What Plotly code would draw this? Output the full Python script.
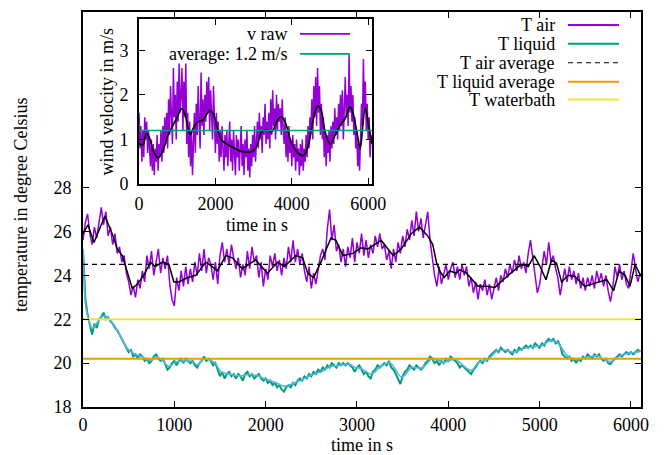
import plotly.graph_objects as go

FONT = "Liberation Serif, Times New Roman, serif"
FS = 18

# ---------------- data ----------------
raw_step = 25  # s between raw samples

t_air_raw = [
    25.6, 26.4, 26.8, 25.9, 25.4, 26.2, 25.7, 26.5, 27.1, 26.3, 26.9, 25.8,
    26.2, 25.4, 25.9, 25.0, 25.3, 24.6, 24.9, 24.1, 23.7, 23.1, 23.5, 23.0,
    23.8, 23.4, 24.2, 23.7, 24.9, 24.3, 25.1, 24.0, 24.6, 25.2, 24.1, 24.8,
    24.3, 24.9, 23.6, 22.9, 22.6, 23.9, 23.3, 24.2, 23.5, 24.4, 23.6, 24.3,
    23.7, 24.6, 24.0, 25.0, 24.2, 25.2, 24.1, 24.8, 24.5, 23.8, 24.6, 23.6,
    24.9, 25.5, 24.6, 25.2, 24.5, 25.4, 24.8, 24.3, 24.8, 23.9, 24.5, 24.0,
    25.1, 24.3, 25.3, 24.6, 24.9, 23.9, 24.6, 23.5, 24.3, 23.8, 24.9, 24.4,
    25.0, 24.2, 24.7, 24.0, 24.8, 24.3, 25.3, 24.6, 25.6, 24.6, 25.2, 24.5,
    25.0, 24.2, 23.7, 24.4, 23.4, 24.1, 23.6, 24.3, 24.9, 25.2, 24.7, 26.1,
    27.0, 25.6, 26.3, 25.1, 25.4, 24.6, 25.2, 24.4, 25.3, 24.8, 25.7, 24.6,
    25.5, 25.0, 25.9, 24.9, 25.6, 24.8, 25.4, 25.0, 25.8, 25.3, 25.9, 25.2,
    25.4, 24.7, 25.1, 24.3, 25.2, 24.6, 25.5, 25.0, 25.8, 25.3, 26.1, 25.6,
    26.5, 25.8, 26.9, 26.0, 26.6, 25.7, 26.3, 26.9, 25.6, 24.8, 24.0, 23.5,
    24.4, 23.6, 24.1, 24.5, 23.8, 24.3, 24.6, 23.9, 24.4, 23.8, 24.5, 24.0,
    24.4, 23.5, 23.9, 23.2, 23.7, 22.9, 23.6, 23.3, 23.8, 23.1, 23.6, 22.9,
    23.4, 23.9, 23.3, 24.0, 23.7, 24.3, 23.9, 24.5, 24.1, 24.7, 24.2, 24.9,
    24.3, 24.6, 24.1, 25.0, 25.6, 24.8, 24.2, 23.2, 23.6, 24.3, 25.1, 24.5,
    25.5, 24.6, 24.9, 24.3, 23.9, 23.1, 23.8, 24.3, 23.7, 24.4, 23.8, 24.2,
    23.6, 24.1, 23.4, 23.9, 23.3, 23.9, 23.5, 24.0, 23.4, 24.2, 23.7, 24.1,
    23.5, 24.0, 23.3, 22.8, 23.4, 24.4, 23.9, 24.5, 23.8, 24.2, 23.6, 23.4,
    24.2, 25.0, 24.3, 23.7, 24.1,
]

t_air_smooth_time = [
    0, 55, 120, 240, 320, 375, 430, 465, 540, 595, 665, 740, 790, 870, 940,
    995, 1050, 1145, 1235, 1345, 1415, 1470, 1565, 1635, 1745, 1890, 2020,
    2130, 2205, 2330, 2405, 2460, 2525, 2605, 2715, 2770, 2845, 2955, 3045,
    3120, 3265, 3395, 3485, 3595, 3685, 3775, 3830, 3870, 3905, 3955, 4015,
    4090, 4125, 4200, 4325, 4420, 4510, 4600, 4710, 4800, 4875, 4940, 5005,
    5070, 5130, 5185, 5240, 5315, 5385, 5495, 5570, 5735, 5810, 5870, 5935,
    5990, 6045, 6110,
]
t_air_smooth = [
    25.9, 26.3, 25.5, 26.7, 25.9, 25.2, 24.9, 24.4, 23.4, 23.6, 24.0, 24.6,
    24.4, 24.6, 24.5, 23.7, 23.7, 23.9, 24.0, 24.6, 24.4, 24.2, 24.9, 24.8,
    24.3, 24.7, 24.1, 24.6, 24.4, 24.9, 24.8, 24.1, 23.9, 24.6, 25.7, 25.6,
    24.9, 25.0, 25.25, 25.2, 25.6, 24.9, 25.2, 25.9, 26.2, 25.8, 25.4, 24.6,
    24.2, 23.9, 24.2, 24.1, 24.25, 24.1, 23.5, 23.5, 23.45, 23.8, 24.2, 24.5,
    24.4, 24.9, 24.4, 23.8, 24.7, 24.55, 23.7, 24.0, 23.95, 23.5, 23.6, 23.8,
    23.3, 24.2, 24.0, 23.5, 24.5, 23.95,
]

t_liquid_raw = [
    25.2, 23.0, 22.2, 21.7, 21.3, 21.8, 21.6, 22.0, 22.1, 22.3, 22.0, 22.1,
    21.9, 21.8, 21.6, 21.5, 21.3, 21.1, 20.9, 20.7, 20.5, 20.6, 20.3, 20.4,
    20.2, 20.4, 20.3, 20.1, 20.2, 20.0, 20.1, 20.3, 20.4, 20.2, 20.1, 20.2,
    19.9, 19.7, 19.8, 20.0, 20.1, 19.9, 20.1, 20.2, 20.0, 20.2, 20.1, 20.0,
    20.1, 19.9, 19.8, 20.0, 20.1, 20.3, 20.1, 20.2, 20.1, 19.9, 20.0, 19.7,
    19.4, 19.6, 19.3, 19.5, 19.6, 19.4, 19.5, 19.3, 19.5, 19.4, 19.2, 19.5,
    19.6, 19.4, 19.5, 19.3, 19.4, 19.5, 19.3, 19.2, 19.3, 19.1, 19.2, 19.0,
    19.1, 18.9, 19.0, 18.8, 18.7, 18.9, 19.0, 18.9, 19.1, 19.0, 19.2, 19.3,
    19.2, 19.4, 19.3, 19.5, 19.4, 19.6, 19.5, 19.7, 19.6, 19.8, 19.7, 19.9,
    19.8, 20.0, 19.9, 19.8, 20.0, 19.9, 20.0, 19.9, 20.0, 19.9, 19.8, 19.6,
    19.8, 19.9, 19.7, 19.5, 19.6, 19.4, 19.3, 19.6, 19.7, 19.9, 19.8, 19.9,
    20.0, 19.9, 20.1, 19.8, 19.7, 19.5, 19.3, 19.05, 19.4, 19.6, 19.7, 19.9,
    19.8, 19.7, 19.9, 19.8, 19.7, 19.8, 20.0, 20.1, 20.3, 20.2, 20.0, 20.1,
    19.9, 20.1, 20.0, 20.2, 20.1, 20.3, 20.2, 20.1, 20.0, 19.8, 19.9, 19.8,
    19.7, 19.6, 19.5, 19.7, 19.8, 20.0, 20.1, 20.0, 20.2, 20.1, 20.3, 20.4,
    20.5, 20.6, 20.5, 20.7, 20.6, 20.5, 20.6, 20.5, 20.4, 20.6, 20.5, 20.7,
    20.6, 20.7, 20.8, 20.7, 20.8, 20.7, 20.9, 20.8, 20.7, 20.9, 20.8, 21.0,
    21.1, 21.0, 21.1, 20.9, 21.0, 20.8, 20.4, 20.3, 20.2, 20.3, 20.1, 20.2,
    20.0, 20.2, 20.1, 20.3, 20.2, 20.4, 20.3, 20.2, 20.4, 20.3, 20.4, 20.2,
    20.1, 20.2, 20.0, 19.95, 20.1, 20.2, 20.3, 20.4, 20.3, 20.4, 20.5, 20.4,
    20.5, 20.4, 20.5, 20.6, 20.55,
]

t_liquid_smooth_time = [
    0, 10, 27, 63, 100, 155, 228, 300, 375, 445, 500, 575, 650, 740, 815, 870,
    940, 1015, 1125, 1195, 1250, 1325, 1400, 1455, 1510, 1600, 1710, 1820,
    1910, 2000, 2110, 2205, 2295, 2405, 2515, 2605, 2700, 2810, 2920, 2975,
    3045, 3160, 3250, 3360, 3490, 3600, 3710, 3835, 3945, 4075, 4165, 4255,
    4330, 4440, 4530, 4605, 4715, 4825, 4935, 5025, 5115, 5190, 5260, 5320,
    5410, 5520, 5630, 5700, 5775, 5885, 5960, 6070, 6110,
]
t_liquid_smooth = [
    25.2, 24.1, 22.7, 21.95, 21.6, 21.85, 22.15, 21.95, 21.5, 20.95, 20.6,
    20.4, 20.28, 20.12, 20.26, 20.12, 19.85, 20.05, 20.1, 20.08, 19.92, 20.18,
    20.12, 19.95, 19.6, 19.5, 19.42, 19.48, 19.42, 19.28, 19.1, 18.95, 19.06,
    19.26, 19.48, 19.6, 19.83, 19.9, 19.95, 19.8, 19.75, 19.5, 19.8, 20.02,
    19.35, 19.8, 19.78, 20.22, 20.03, 20.18, 19.88, 19.67, 20.03, 20.18, 20.55,
    20.6, 20.5, 20.67, 20.75, 20.8, 21.02, 20.95, 20.57, 20.27, 20.18, 20.26,
    20.34, 20.18, 20.07, 20.34, 20.44, 20.5, 20.56,
]

t_air_average = 24.5
t_liquid_average = 20.2
t_waterbath = 22.0
t_end = 6110

v_raw = [
    1.6, 0.8, 1.3, 0.5, 1.2, 0.6, 1.5, 1.0, 1.4, 0.7, 1.2, 0.8,
    0.4, 1.0, 0.3, 0.9, 0.2, 0.8, 0.5, 1.1, 0.3, 0.9, 0.6, 1.2,
    0.5, 1.3, 0.7, 1.5, 0.9, 1.6, 0.8, 1.9, 1.1, 2.2, 1.4, 0.9,
    2.6, 1.5, 2.0, 1.0, 2.3, 1.4, 2.7, 1.6, 2.0, 2.6, 1.2, 2.3,
    1.5, 2.7, 0.9, 1.6, 0.6, 1.4, 0.4, 1.2, 0.2, 1.0, 1.6, 0.7,
    1.8, 1.1, 2.2, 1.4, 0.8, 2.5, 1.3, 1.9, 1.1, 2.0, 1.4, 2.3,
    1.6, 2.4, 1.2, 2.1, 1.5, 1.0, 2.2, 1.3, 0.7, 1.6, 0.9, 1.4,
    0.5, 1.2, 0.6, 1.3, 0.8, 0.3, 1.1, 0.6, 1.2, 0.4, 0.9, 1.4,
    0.5, 1.0, 0.3, 1.2, 0.7, 0.2, 1.1, 0.6, 1.0, 0.3, 0.8, 1.3,
    0.4, 0.9, 0.2, 1.0, 0.6, 1.2, 0.3, 0.8, 0.15, 0.9, 0.4, 1.1,
    0.6, 1.3, 0.5, 1.0, 1.4, 0.8, 1.6, 1.0, 1.3, 0.7, 1.5, 1.1,
    1.8, 0.9, 1.4, 1.0, 1.6, 0.8, 1.9, 1.1, 2.1, 1.3, 1.7, 1.0,
    2.0, 1.2, 1.8, 1.4, 1.7, 1.1, 1.9, 1.2, 0.9, 1.5, 0.6, 1.2,
    0.5, 1.3, 0.7, 1.0, 0.4, 1.1, 0.6, 0.9, 0.3, 1.0, 0.5, 0.8,
    0.2, 0.9, 0.4, 1.0, 0.3, 0.8, 0.5, 1.1, 0.6, 1.3, 0.8, 1.5,
    1.2, 1.9, 1.0, 2.2, 1.5, 2.4, 1.3, 2.6, 1.6, 2.2, 1.1, 1.8,
    1.0, 1.5, 0.6, 1.2, 0.4, 1.1, 0.7, 1.2, 0.5, 1.3, 0.8, 1.4,
    0.9, 1.7, 1.1, 1.5, 1.0, 1.8, 1.2, 2.0, 1.3, 2.1, 1.0, 1.7,
    2.4, 1.5, 2.0, 1.3, 2.9, 1.6, 2.2, 1.4, 2.0, 1.1, 1.5, 0.8,
    1.2, 0.4, 0.9, 0.3, 1.0, 1.8, 1.3, 2.8, 1.6, 2.3, 1.2, 1.8,
    1.0, 1.5, 0.6, 1.1, 0.9,
]

v_smooth_time = [
    0, 105, 192, 280, 367, 499, 630, 761, 892, 1024, 1111, 1199, 1286, 1348,
    1417, 1549, 1680, 1855, 1942, 2030, 2161, 2336, 2511, 2686, 2948, 3079,
    3210, 3341, 3472, 3604, 3718, 3823, 3998, 4173, 4304, 4436, 4567, 4680,
    4768, 4873, 5004, 5136, 5267, 5398, 5530, 5617, 5704, 5792, 5853, 5923,
    6010, 6098,
]
v_smooth = [
    0.91, 0.88, 1.14, 1.02, 0.76, 0.59, 0.76, 1.10, 1.32, 1.54, 1.69, 1.58,
    1.25, 1.11, 1.25, 1.40, 1.44, 1.65, 1.58, 1.32, 0.99, 0.88, 0.80, 0.73,
    0.73, 0.84, 1.17, 1.21, 1.17, 1.40, 1.51, 1.40, 0.91, 0.69, 0.64, 0.88,
    1.47, 1.75, 1.66, 1.17, 0.89, 1.10, 1.32, 1.47, 1.73, 1.54, 1.17, 0.80,
    1.25, 1.71, 1.32, 0.91,
]
v_average = 1.2
v_end = 6100

main_x_ticks = [0, 1000, 2000, 3000, 4000, 5000, 6000]
main_y_ticks = [18, 20, 22, 24, 26, 28]
inset_x_ticks = [0, 2000, 4000, 6000]
inset_y_ticks = [0, 1, 2, 3]

legend_main = ["T air", "T liquid", "T air average", "T liquid average", "T waterbath"]
legend_inset = ["v raw", "average: 1.2 m/s"]

# ---------------- colours ----------------
PURPLE = "#9400d3"
GREEN = "#009e73"
BLUE = "#56b4e9"
ORANGE = "#e69f00"
YELLOW = "#f0e442"
BLACK = "#000000"

# page body has an 8px margin; size the figure so the plot lands at the
# same window pixels as the reference
OFF = 8
W, H = 667 - OFF, 455 - OFF
ML, MR, MT, MB = 83 - OFF, 26, 10 - OFF, 56 - OFF
PW, PH = W - ML - MR, H - MT - MB


def px(x):
    return (x - OFF - ML) / PW


def py(y):
    return (OFF + H - MB - y) / PH


t_raw = [raw_step * i for i in range(len(t_air_raw))]
t_liq = [raw_step * i for i in range(len(t_liquid_raw))]
t_v = [raw_step * i for i in range(len(v_raw))]

fig = go.Figure()

# main plot traces
fig.add_trace(go.Scatter(x=t_raw, y=t_air_raw, mode="lines",
                         line=dict(color=PURPLE, width=1.5), name="T air"))
fig.add_trace(go.Scatter(x=t_air_smooth_time, y=t_air_smooth, mode="lines",
                         line=dict(color=BLACK, width=1.5), name="T air smooth"))
fig.add_trace(go.Scatter(x=t_liq, y=t_liquid_raw, mode="lines",
                         line=dict(color=GREEN, width=2), name="T liquid"))
fig.add_trace(go.Scatter(x=t_liquid_smooth_time, y=t_liquid_smooth, mode="lines",
                         line=dict(color=BLUE, width=1.6, shape="spline"),
                         name="T liquid smooth"))
fig.add_trace(go.Scatter(x=[0, t_end], y=[t_air_average, t_air_average], mode="lines",
                         line=dict(color=BLACK, width=1.2, dash="5px,4px"),
                         name="T air average"))
fig.add_trace(go.Scatter(x=[0, t_end], y=[t_liquid_average, t_liquid_average], mode="lines",
                         line=dict(color=ORANGE, width=2), name="T liquid average"))
fig.add_trace(go.Scatter(x=[0, t_end], y=[t_waterbath, t_waterbath], mode="lines",
                         line=dict(color=YELLOW, width=2), name="T waterbath"))

# inset traces
fig.add_trace(go.Scatter(x=t_v, y=v_raw, mode="lines", xaxis="x2", yaxis="y2",
                         line=dict(color=PURPLE, width=1.5), name="v raw"))
fig.add_trace(go.Scatter(x=v_smooth_time, y=v_smooth, mode="lines", xaxis="x2", yaxis="y2",
                         line=dict(color=BLACK, width=1.6, shape="spline"),
                         name="v smooth"))
fig.add_trace(go.Scatter(x=[0, v_end], y=[v_average, v_average], mode="lines",
                         xaxis="x2", yaxis="y2",
                         line=dict(color=GREEN, width=1.5), name="average"))

axis_common = dict(
    showline=True, linecolor="black", linewidth=2, mirror="allticks",
    ticks="inside", ticklen=6, tickwidth=1, tickcolor="black",
    showgrid=False, zeroline=False,
    tickfont=dict(family=FONT, size=FS, color="black"),
)

fig.update_layout(
    width=W, height=H,
    margin=dict(l=ML, r=MR, t=MT, b=MB),
    paper_bgcolor="white", plot_bgcolor="white",
    showlegend=False,
    font=dict(family=FONT, size=FS, color="black"),
    xaxis=dict(domain=[0, 1], range=[0, t_end], tickvals=main_x_ticks,
               ticklabelstandoff=0, **axis_common),
    yaxis=dict(domain=[0, 1], range=[18, 36], tickvals=main_y_ticks,
               ticklabelstandoff=6, **axis_common),
    xaxis2=dict(domain=[px(139), px(372)], anchor="y2", range=[0, v_end],
                tickvals=inset_x_ticks, ticklabelstandoff=2, **axis_common),
    yaxis2=dict(domain=[py(183), py(17)], anchor="x2", range=[0, 3.7],
                tickvals=inset_y_ticks, ticklabelstandoff=5, **axis_common),
)

annotations = []
shapes = []

# axis titles
annotations.append(dict(text="time in s", x=px(362), y=py(445), xref="paper", yref="paper",
                        showarrow=False, xanchor="center", yanchor="middle",
                        borderpad=0, font=dict(family=FONT, size=FS)))
annotations.append(dict(text="temperature in degree Celsius", x=px(21), y=py(204),
                        xref="paper", yref="paper", textangle=-90,
                        showarrow=False, xanchor="center", yanchor="middle",
                        font=dict(family=FONT, size=FS)))
annotations.append(dict(text="time in s", x=px(257), y=py(224), xref="paper", yref="paper",
                        showarrow=False, xanchor="center", yanchor="middle",
                        font=dict(family=FONT, size=FS)))
annotations.append(dict(text="wind velocity in m/s", x=px(107), y=py(100),
                        xref="paper", yref="paper", textangle=-90,
                        showarrow=False, xanchor="center", yanchor="middle",
                        font=dict(family=FONT, size=FS)))

# main legend
main_colors = [PURPLE, GREEN, BLACK, ORANGE, YELLOW]
main_dash = ["solid", "solid", "5px,4px", "solid", "solid"]
main_rows = [23, 42, 61, 80, 98]
for name, col, dsh, row in zip(legend_main, main_colors, main_dash, main_rows):
    annotations.append(dict(text=name, x=px(556), y=py(row), xref="paper", yref="paper",
                            showarrow=False, xanchor="right", yanchor="middle",
                            borderpad=0, font=dict(family=FONT, size=FS)))
    shapes.append(dict(type="line", xref="paper", yref="paper",
                       x0=px(568), x1=px(619), y0=py(row), y1=py(row),
                       line=dict(color=col, width=2 if dsh == "solid" else 1.2, dash=dsh)))

# inset legend
inset_colors = [PURPLE, GREEN]
inset_rows = [32, 52]
for name, col, row in zip(legend_inset, inset_colors, inset_rows):
    annotations.append(dict(text=name, x=px(288), y=py(row), xref="paper", yref="paper",
                            showarrow=False, xanchor="right", yanchor="middle",
                            borderpad=0, font=dict(family=FONT, size=FS)))
    shapes.append(dict(type="line", xref="paper", yref="paper",
                       x0=px(300), x1=px(350), y0=py(row), y1=py(row),
                       line=dict(color=col, width=1.8)))

fig.update_layout(annotations=annotations, shapes=shapes)

fig.write_html("out.html")
